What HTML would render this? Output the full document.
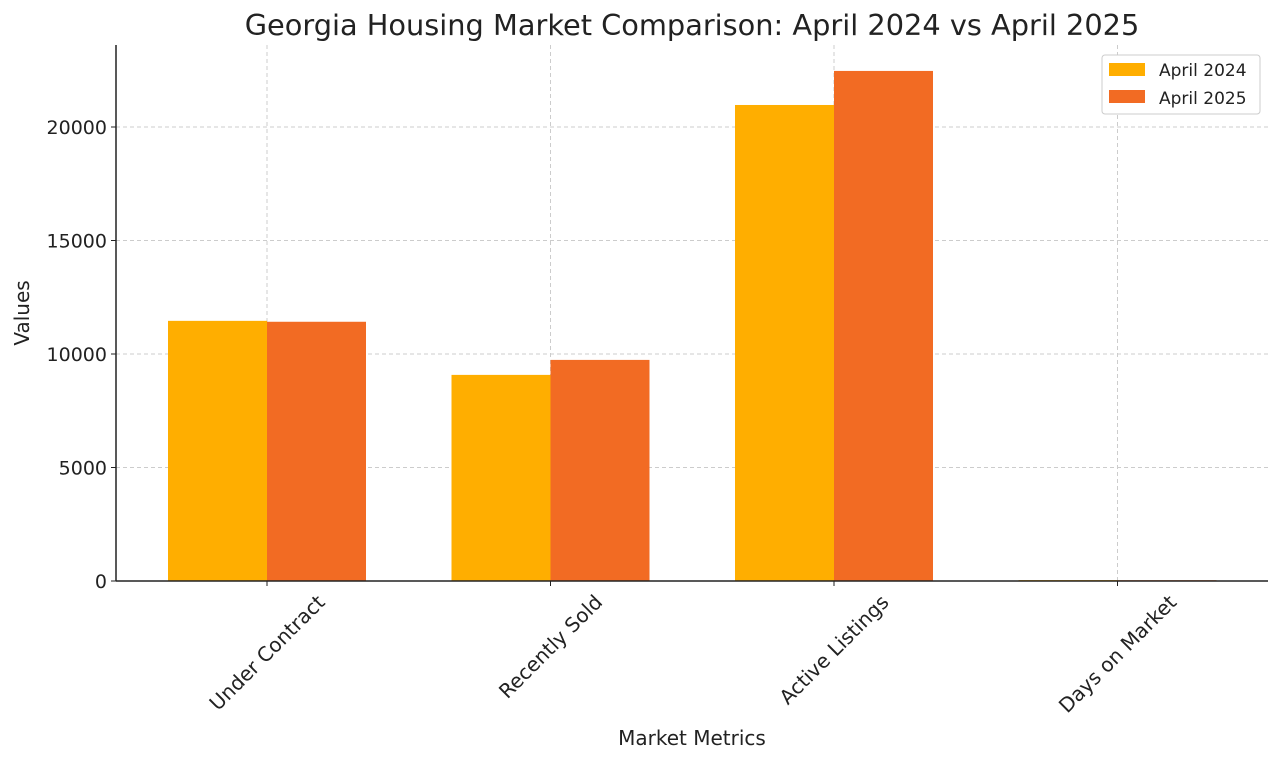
<!DOCTYPE html>
<html><head><meta charset="utf-8"><style>
body{margin:0;background:#fff;}
svg text{font-family:"DejaVu Sans","Liberation Sans",sans-serif;fill:#222;}
</style></head><body>
<svg id="chart" width="1280" height="763" xmlns="http://www.w3.org/2000/svg">
<text x="692" y="35" font-size="28.8" text-anchor="middle" fill="#333">Georgia Housing Market Comparison: April 2024 vs April 2025</text>
<g id="grid"></g><g id="bars"></g><g id="axes"></g>
<text x="692" y="745" font-size="20" text-anchor="middle">Market Metrics</text>
<text transform="translate(29,313) rotate(-90)" font-size="20" text-anchor="middle">Values</text>
<g>
<rect x="1102" y="55" width="158" height="59" rx="3" fill="#fff" stroke="#ccc"/>
<rect x="1109" y="63" width="36" height="13" fill="#FFAE00"/>
<text x="1159" y="76" font-size="17">April 2024</text>
<rect x="1109" y="90" width="36" height="13" fill="#F26B23"/>
<text x="1159" y="104" font-size="17">April 2025</text>
</g>
</svg>
<script>
const categories=["Under Contract","Recently Sold","Active Listings","Days on Market"];
const values2024=[11460,9080,20970,40];
const values2025=[11420,9740,22470,35];
const yTicks=[0,5000,10000,15000,20000];
const NS="http://www.w3.org/2000/svg";
const L=116,R=1268,B=581,T=45;
const y=v=>B-v*(454/20000);
const x=i=>267+283.5*i;
const bw=99;
function mk(t,a,p){const e=document.createElementNS(NS,t);for(const k in a)e.setAttribute(k,a[k]);p.appendChild(e);return e;}
const grid=document.getElementById('grid'),bars=document.getElementById('bars'),axes=document.getElementById('axes');
yTicks.forEach(t=>{
 if(t>0){const g=mk('line',{x1:L,x2:R,y1:y(t),y2:y(t),stroke:'#ccc','stroke-dasharray':'4,3'},grid);
 
 }
 mk('line',{x1:L-5,x2:L,y1:y(t),y2:y(t),stroke:'#222'},axes);
 const lb=mk('text',{x:L-9,y:y(t)+7,'font-size':19,'text-anchor':'end'},axes);
 lb.textContent=t;
 
 
});
categories.forEach((c,i)=>{
 const g=mk('line',{x1:x(i),x2:x(i),y1:T,y2:B,stroke:'#ccc','stroke-dasharray':'4,3'},grid);
 
 
 const b1=mk('rect',{x:x(i)-bw,y:y(values2024[i]),width:bw,height:B-y(values2024[i]),fill:'#FFAE00'},bars);
 
 
 const b2=mk('rect',{x:x(i),y:y(values2025[i]),width:bw,height:B-y(values2025[i]),fill:'#F26B23'},bars);
 
 
 mk('line',{x1:x(i),x2:x(i),y1:B,y2:B+5,stroke:'#222'},axes);
 const grp=mk('g',{},axes);
 const lb=mk('text',{'font-size':20,'text-anchor':'middle','dominant-baseline':'central',transform:'rotate(-45)'},grp);
 lb.textContent=c;
 
 
 const bb=grp.getBBox();
 grp.setAttribute('transform',`translate(${x(i)},${B+9-bb.y})`);
});
mk('line',{x1:L,x2:L,y1:T,y2:B,stroke:'#222','stroke-width':1.5},axes);
mk('line',{x1:L,x2:R,y1:B,y2:B,stroke:'#222','stroke-width':1.5},axes);
</script>
</body></html>
